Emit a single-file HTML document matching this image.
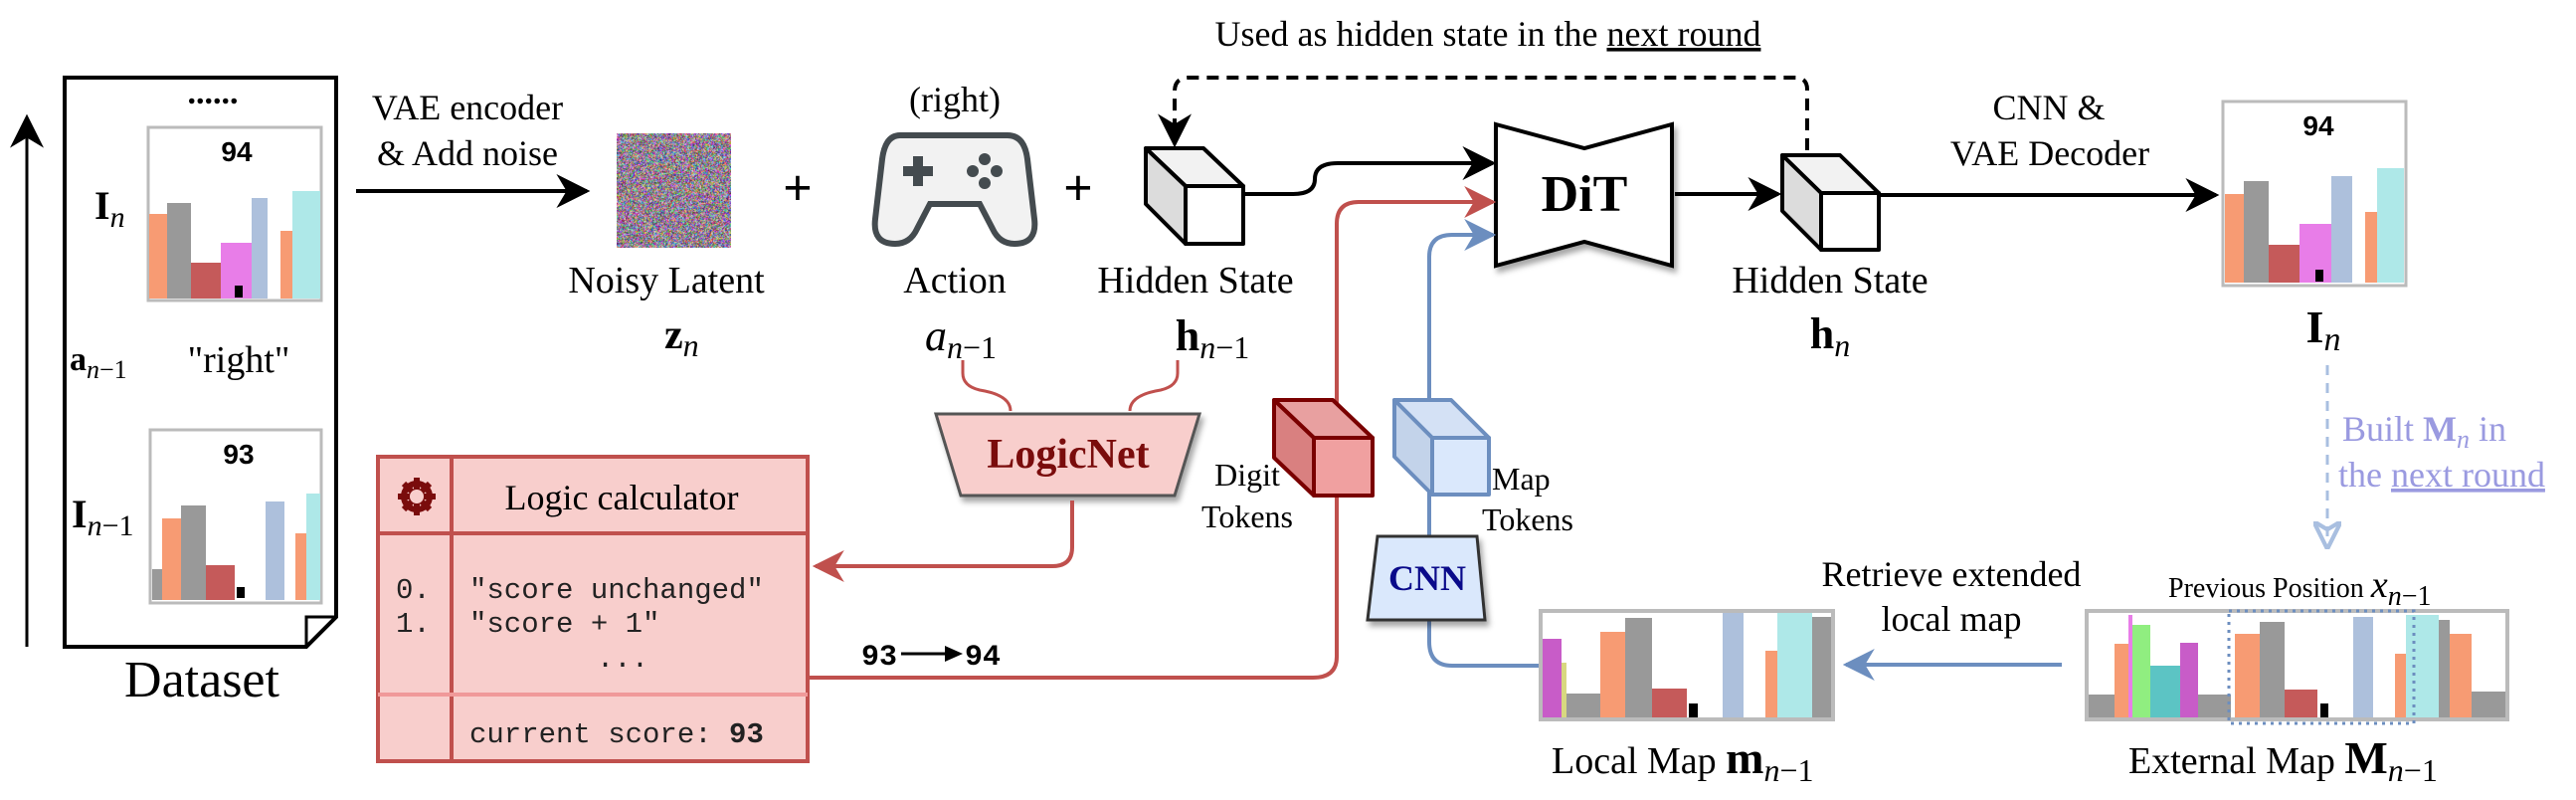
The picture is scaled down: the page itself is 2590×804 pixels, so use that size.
<!DOCTYPE html>
<html><head><meta charset="utf-8"><style>
html,body{margin:0;padding:0;background:#fff;}
svg{display:block;}
.t{font-family:"Liberation Serif",serif;fill:#000;}
.m{font-family:"Liberation Mono",monospace;}
</style></head><body>
<svg width="2590" height="804" viewBox="0 0 2590 804" xmlns="http://www.w3.org/2000/svg">
<defs>
<marker id="ab" markerWidth="10" markerHeight="10" refX="8" refY="5" orient="auto" markerUnits="userSpaceOnUse" viewBox="0 0 10 10"><path d="M0,0 L10,5 L0,10 L3,5 Z" fill="#000"/></marker>
<marker id="abk" viewBox="0 0 10 10" refX="9" refY="5" markerWidth="34" markerHeight="34" orient="auto" markerUnits="userSpaceOnUse"><path d="M0,0 L10,5 L0,10 L3,5 Z" fill="#000"/></marker>
<marker id="ar" viewBox="0 0 10 10" refX="9" refY="5" markerWidth="32" markerHeight="32" orient="auto" markerUnits="userSpaceOnUse"><path d="M0,0 L10,5 L0,10 L3,5 Z" fill="#c0504d"/></marker>
<marker id="abl" viewBox="0 0 10 10" refX="9" refY="5" markerWidth="32" markerHeight="32" orient="auto" markerUnits="userSpaceOnUse"><path d="M0,0 L10,5 L0,10 L3,5 Z" fill="#6c8ebf"/></marker>
<marker id="alb" viewBox="0 0 10 10" refX="9" refY="5" markerWidth="28" markerHeight="28" orient="auto" markerUnits="userSpaceOnUse"><path d="M0,0 L10,5 L0,10 L3,5 Z" fill="none" stroke="#a9bfe0" stroke-width="1.5"/></marker>
<filter id="sh" x="-10%" y="-10%" width="130%" height="130%"><feDropShadow dx="3" dy="5" stdDeviation="3" flood-opacity="0.35"/></filter>
</defs>

<!-- Dataset -->
<line x1="27" y1="650" x2="27" y2="118" stroke="#000" stroke-width="3" marker-end="url(#abk)"/>
<path d="M65,78 H338 V620 L308,650 H65 Z" fill="#fff" stroke="#000" stroke-width="4"/>
<path d="M338,620 H308 V650" fill="none" stroke="#000" stroke-width="3"/>
<text class="t" x="214" y="104" font-size="34" text-anchor="middle" font-weight="bold">......</text>

<!-- In chart -->
<g>
<rect x="149" y="128" width="174" height="174" fill="#fff" stroke="#bbb" stroke-width="3"/>
<text x="238" y="162" font-family="Liberation Sans,sans-serif" font-weight="bold" font-size="28" text-anchor="middle">94</text>
<rect x="150" y="215" width="18" height="85" fill="#f79b73"/>
<rect x="168" y="204" width="24" height="96" fill="#999"/>
<rect x="192" y="264" width="30" height="36" fill="#c55a5a"/>
<rect x="222" y="244" width="31" height="56" fill="#e87de8"/>
<rect x="236" y="287" width="8" height="12" fill="#000"/>
<rect x="253" y="199" width="16" height="101" fill="#adc0dc"/>
<rect x="282" y="232" width="12" height="68" fill="#f79b73"/>
<rect x="294" y="192" width="28" height="108" fill="#aee8e8"/>
</g>
<text class="t" x="95" y="220" font-size="40"><tspan font-weight="bold">I</tspan><tspan font-style="italic" font-size="30" dy="8">n</tspan></text>
<text class="t" x="70" y="372" font-size="34"><tspan font-weight="bold">a</tspan><tspan font-style="italic" font-size="26" dy="8">n</tspan><tspan font-size="26">−1</tspan></text>
<text class="t" x="240" y="374" font-size="38" text-anchor="middle">"right"</text>

<!-- In-1 chart -->
<g>
<rect x="151" y="432" width="172" height="174" fill="#fff" stroke="#bbb" stroke-width="3"/>
<text x="240" y="466" font-family="Liberation Sans,sans-serif" font-weight="bold" font-size="28" text-anchor="middle">93</text>
<rect x="153" y="572" width="10" height="31" fill="#999"/>
<rect x="163" y="521" width="19" height="82" fill="#f79b73"/>
<rect x="182" y="508" width="25" height="95" fill="#999"/>
<rect x="207" y="568" width="29" height="35" fill="#c55a5a"/>
<rect x="238" y="590" width="8" height="11" fill="#000"/>
<rect x="267" y="504" width="19" height="99" fill="#adc0dc"/>
<rect x="297" y="536" width="11" height="67" fill="#f79b73"/>
<rect x="308" y="496" width="14" height="107" fill="#aee8e8"/>
</g>
<text class="t" x="72" y="530" font-size="40"><tspan font-weight="bold">I</tspan><tspan font-style="italic" font-size="30" dy="8">n</tspan><tspan font-size="30">−1</tspan></text>
<text class="t" x="203" y="700" font-size="52" text-anchor="middle">Dataset</text>

<!-- VAE encoder -->
<text class="t" x="470" y="120" font-size="36" text-anchor="middle">VAE encoder</text>
<text class="t" x="470" y="166" font-size="36" text-anchor="middle">&amp; Add noise</text>
<line x1="358" y1="192" x2="590" y2="192" stroke="#000" stroke-width="4" marker-end="url(#abk)"/>

<!-- noisy latent -->
<foreignObject x="620" y="134" width="115" height="115"><canvas id="nz" width="115" height="115" xmlns="http://www.w3.org/1999/xhtml"></canvas></foreignObject>
<text class="t" x="670" y="294" font-size="38" text-anchor="middle">Noisy Latent</text>
<text class="t" x="668" y="350" font-size="42"><tspan font-weight="bold">z</tspan><tspan font-style="italic" font-size="32" dy="8">n</tspan></text>

<text class="t" x="802" y="206" font-size="52" text-anchor="middle" font-weight="bold">+</text>
<text class="t" x="1084" y="206" font-size="52" text-anchor="middle" font-weight="bold">+</text>

<!-- gamepad -->
<text class="t" x="960" y="112" font-size="36" text-anchor="middle">(right)</text>
<path d="M905,136 H1013 Q1030,136 1033,160 L1040,220 Q1043,245 1020,245 Q1005,245 998,230 L985,205 H935 L922,230 Q915,245 900,245 Q877,245 880,220 L887,160 Q890,136 905,136 Z" fill="#f2f2f2" stroke="#444b4f" stroke-width="6"/>
<path d="M908,167 h10 v-10 h10 v10 h10 v10 h-10 v10 h-10 v-10 h-10 z" fill="#444b4f"/>
<circle cx="990" cy="160" r="6" fill="#444b4f"/><circle cx="978" cy="172" r="6" fill="#444b4f"/><circle cx="1002" cy="172" r="6" fill="#444b4f"/><circle cx="990" cy="184" r="6" fill="#444b4f"/>
<text class="t" x="960" y="294" font-size="38" text-anchor="middle">Action</text>
<text class="t" x="966" y="352" font-size="44" text-anchor="middle"><tspan font-style="italic">a</tspan><tspan font-style="italic" font-size="32" dy="8">n</tspan><tspan font-size="32">−1</tspan></text>

<!-- hidden state n-1 cube -->
<g stroke="#000" stroke-width="4" stroke-linejoin="round">
<path d="M1152,149 L1210,149 L1250,187 L1192,187 Z" fill="#f2f2f2"/>
<path d="M1152,149 L1192,187 L1192,245 L1152,205 Z" fill="#dcdcdc"/>
<rect x="1192" y="187" width="58" height="58" fill="#fff"/>
</g>
<text class="t" x="1202" y="294" font-size="38" text-anchor="middle">Hidden State</text>
<text class="t" x="1219" y="352" font-size="44" text-anchor="middle"><tspan font-weight="bold">h</tspan><tspan font-style="italic" font-size="32" dy="8">n</tspan><tspan font-size="32">−1</tspan></text>

<!-- dashed loop -->
<text class="t" x="1496" y="46" font-size="36" text-anchor="middle">Used as hidden state in the <tspan text-decoration="underline">next round</tspan></text>
<path d="M1817,151 V90 Q1817,78 1805,78 H1195 Q1181,78 1181,92 V145" fill="none" stroke="#000" stroke-width="4" stroke-dasharray="12,8" marker-end="url(#abk)"/>

<!-- curve into DiT -->
<path d="M1252,195 H1300 Q1322,195 1322,180 Q1322,164 1345,164 H1501" fill="none" stroke="#000" stroke-width="4" marker-end="url(#abk)"/>

<!-- DiT -->
<path d="M1504,125 L1593,149 L1681,125 V267 L1593,243 L1504,267 Z" fill="#fff" stroke="#000" stroke-width="4" filter="url(#sh)"/>
<text class="t" x="1593" y="212" font-size="52" font-weight="bold" text-anchor="middle">DiT</text>
<line x1="1684" y1="195" x2="1788" y2="195" stroke="#000" stroke-width="4" marker-end="url(#abk)"/>

<!-- hn cube -->
<g stroke="#000" stroke-width="4" stroke-linejoin="round">
<path d="M1792,156 L1850,156 L1889,194 L1831,194 Z" fill="#f2f2f2"/>
<path d="M1792,156 L1831,194 L1831,251 L1792,212 Z" fill="#dcdcdc"/>
<rect x="1831" y="194" width="58" height="57" fill="#fff"/>
</g>
<text class="t" x="1840" y="294" font-size="38" text-anchor="middle">Hidden State</text>
<text class="t" x="1840" y="350" font-size="44" text-anchor="middle"><tspan font-weight="bold">h</tspan><tspan font-style="italic" font-size="32" dy="8">n</tspan></text>

<line x1="1889" y1="196" x2="2228" y2="196" stroke="#000" stroke-width="4" marker-end="url(#abk)"/>
<text class="t" x="2060" y="120" font-size="36" text-anchor="middle">CNN &amp;</text>
<text class="t" x="2061" y="166" font-size="36" text-anchor="middle">VAE Decoder</text>

<!-- output In chart -->
<g>
<rect x="2235" y="102" width="184" height="185" fill="#fff" stroke="#bbb" stroke-width="3"/>
<text x="2331" y="136" font-family="Liberation Sans,sans-serif" font-weight="bold" font-size="28" text-anchor="middle">94</text>
<rect x="2237" y="195" width="19" height="89" fill="#f79b73"/>
<rect x="2256" y="182" width="25" height="102" fill="#999"/>
<rect x="2281" y="246" width="31" height="38" fill="#c55a5a"/>
<rect x="2312" y="225" width="32" height="59" fill="#e87de8"/>
<rect x="2328" y="271" width="8" height="12" fill="#000"/>
<rect x="2344" y="177" width="21" height="107" fill="#adc0dc"/>
<rect x="2378" y="213" width="12" height="71" fill="#f79b73"/>
<rect x="2390" y="169" width="27" height="115" fill="#aee8e8"/>
</g>
<text class="t" x="2336" y="344" font-size="46" text-anchor="middle"><tspan font-weight="bold">I</tspan><tspan font-style="italic" font-size="34" dy="8">n</tspan></text>

<!-- dashed down -->
<line x1="2340" y1="367" x2="2340" y2="549" stroke="#a9bfe0" stroke-width="3" stroke-dasharray="10,8" marker-end="url(#alb)"/>
<text class="t" x="2355" y="443" font-size="36" style="fill:#9a9ae0">Built  <tspan font-weight="bold">M</tspan><tspan font-style="italic" font-size="26" dy="7">n</tspan><tspan dy="-7"> in</tspan></text>
<text class="t" x="2351" y="489" font-size="36" style="fill:#9a9ae0">the <tspan text-decoration="underline">next round</tspan></text>

<!-- LogicNet -->
<path d="M968,362 V375 Q968,388 985,392 Q1016,397 1016,413" fill="none" stroke="#c0504d" stroke-width="3"/>
<path d="M1184,362 V375 Q1184,388 1167,392 Q1136,397 1136,413" fill="none" stroke="#c0504d" stroke-width="3"/>
<path d="M941,416 H1206 L1181,498 H966 Z" fill="#f8cecc" stroke="#555" stroke-width="3" filter="url(#sh)"/>
<text class="t" x="1074" y="470" font-size="42" font-weight="bold" text-anchor="middle" style="fill:#7a0c0c">LogicNet</text>
<path d="M1078,503 V550 Q1078,569 1058,569 H820" fill="none" stroke="#c0504d" stroke-width="4" marker-end="url(#ar)"/>

<!-- Logic calculator -->
<rect x="380" y="459" width="432" height="306" fill="#f8cecc" stroke="#c0504d" stroke-width="4"/>
<line x1="454" y1="459" x2="454" y2="765" stroke="#c0504d" stroke-width="4"/>
<line x1="380" y1="536" x2="812" y2="536" stroke="#c0504d" stroke-width="4"/>
<line x1="380" y1="698" x2="812" y2="698" stroke="#f09999" stroke-width="4"/>
<g transform="translate(419,499)" fill="#7a0c0c">
<circle r="13" fill="none" stroke="#7a0c0c" stroke-width="6"/>
<g stroke="#7a0c0c" stroke-width="6"><line x1="0" y1="-19" x2="0" y2="19"/><line x1="-19" y1="0" x2="19" y2="0"/><line x1="-13" y1="-13" x2="13" y2="13"/><line x1="-13" y1="13" x2="13" y2="-13"/></g>
<circle r="7" fill="#f8cecc"/>
</g>
<text class="t" x="625" y="512" font-size="36" text-anchor="middle">Logic calculator</text>
<g class="m" font-size="29" fill="#222">
<text x="398" y="601">0.</text><text x="398" y="635">1.</text>
<text x="472" y="601">"score unchanged"</text>
<text x="472" y="635">"score + 1"</text>
<text x="626" y="670" text-anchor="middle">...</text>
<text x="472" y="746">current score: <tspan font-weight="bold">93</tspan></text>
</g>
<text class="m" x="866" y="668" font-size="30" font-weight="bold">93</text>
<line x1="906" y1="657" x2="962" y2="657" stroke="#000" stroke-width="3"/>
<path d="M950,649 L968,657 L950,665 Z" fill="#000"/>
<text class="m" x="970" y="668" font-size="30" font-weight="bold">94</text>

<!-- red path to DiT -->
<path d="M814,681 H1320 Q1344,681 1344,660 V225 Q1344,203 1366,203 H1501" fill="none" stroke="#c0504d" stroke-width="4" marker-end="url(#ar)"/>
<!-- blue path -->
<path d="M1547,669 H1460 Q1437,669 1437,645 V258 Q1437,236 1460,236 H1501" fill="none" stroke="#6c8ebf" stroke-width="4" marker-end="url(#abl)"/>

<!-- digit tokens cube -->
<g stroke="#7a0000" stroke-width="4" stroke-linejoin="round">
<path d="M1281,402 L1340,402 L1380,440 L1321,440 Z" fill="#e8a0a0"/>
<path d="M1281,402 L1321,440 L1321,498 L1281,460 Z" fill="#d98080"/>
<rect x="1321" y="440" width="59" height="58" fill="#f0a0a0"/>
</g>
<text class="t" x="1254" y="488" font-size="32" text-anchor="middle">Digit</text>
<text class="t" x="1254" y="530" font-size="32" text-anchor="middle">Tokens</text>

<!-- map tokens cube -->
<g stroke="#6c8ebf" stroke-width="4" stroke-linejoin="round">
<path d="M1402,402 L1459,402 L1497,440 L1440,440 Z" fill="#d4e1f5"/>
<path d="M1402,402 L1440,440 L1440,497 L1402,459 Z" fill="#c3d3ea"/>
<rect x="1440" y="440" width="57" height="57" fill="#dae8fc"/>
</g>
<text class="t" x="1500" y="492" font-size="32">Map</text>
<text class="t" x="1490" y="533" font-size="32">Tokens</text>

<!-- CNN -->
<path d="M1385,539 H1485 L1493,623 H1375 Z" fill="#dae8fc" stroke="#333" stroke-width="3" filter="url(#sh)"/>
<text class="t" x="1435" y="593" font-size="36" font-weight="bold" text-anchor="middle" style="fill:#0a0a8a">CNN</text>

<!-- Local map -->
<g>
<rect x="1549" y="614" width="294" height="109" fill="#fff" stroke="#bbb" stroke-width="4"/>
<rect x="1551" y="642" width="19" height="79" fill="#c85cc8"/>
<rect x="1570" y="666" width="5" height="55" fill="#d8d880"/>
<rect x="1575" y="697" width="34" height="24" fill="#999"/>
<rect x="1609" y="635" width="25" height="86" fill="#f79b73"/>
<rect x="1634" y="621" width="27" height="100" fill="#999"/>
<rect x="1661" y="692" width="35" height="29" fill="#c55a5a"/>
<rect x="1698" y="707" width="9" height="14" fill="#000"/>
<rect x="1732" y="616" width="21" height="105" fill="#adc0dc"/>
<rect x="1775" y="654" width="12" height="67" fill="#f79b73"/>
<rect x="1787" y="616" width="35" height="105" fill="#aee8e8"/>
<rect x="1822" y="620" width="19" height="101" fill="#999"/>
</g>
<text class="t" x="1560" y="777" font-size="38">Local Map <tspan font-weight="bold" font-size="46">m</tspan><tspan font-style="italic" font-size="32" dy="8">n</tspan><tspan font-size="32">−1</tspan></text>

<!-- retrieve arrow -->
<line x1="2073" y1="668" x2="1856" y2="668" stroke="#6c8ebf" stroke-width="4" marker-end="url(#abl)"/>
<text class="t" x="1962" y="589" font-size="36" text-anchor="middle">Retrieve extended</text>
<text class="t" x="1962" y="634" font-size="36" text-anchor="middle">local map</text>

<!-- External map -->
<g>
<rect x="2098" y="614" width="423" height="109" fill="#fff" stroke="#bbb" stroke-width="4"/>
<rect x="2100" y="698" width="26" height="23" fill="#999"/>
<rect x="2126" y="647" width="14" height="74" fill="#f79b73"/>
<rect x="2140" y="618" width="4" height="103" fill="#e87de8"/>
<rect x="2144" y="628" width="18" height="93" fill="#90ee80"/>
<rect x="2162" y="669" width="30" height="52" fill="#5cc4c4"/>
<rect x="2192" y="646" width="18" height="75" fill="#c85cc8"/>
<rect x="2210" y="698" width="33" height="23" fill="#999"/>
<rect x="2247" y="637" width="25" height="84" fill="#f79b73"/>
<rect x="2272" y="625" width="25" height="96" fill="#999"/>
<rect x="2297" y="693" width="33" height="28" fill="#c55a5a"/>
<rect x="2333" y="707" width="8" height="14" fill="#000"/>
<rect x="2366" y="620" width="20" height="101" fill="#adc0dc"/>
<rect x="2408" y="657" width="11" height="64" fill="#f79b73"/>
<rect x="2419" y="618" width="33" height="103" fill="#aee8e8"/>
<rect x="2452" y="623" width="11" height="98" fill="#999"/>
<rect x="2463" y="637" width="22" height="84" fill="#f79b73"/>
<rect x="2485" y="695" width="34" height="26" fill="#999"/>
<rect x="2241" y="614" width="186" height="113" fill="none" stroke="#6c8ebf" stroke-width="3" stroke-dasharray="3,5"/>
</g>
<text class="t" x="2180" y="600" font-size="28">Previous Position <tspan font-style="italic" font-size="38">x</tspan><tspan font-style="italic" font-size="28" dy="8">n</tspan><tspan font-size="28">−1</tspan></text>
<text class="t" x="2140" y="777" font-size="38">External Map <tspan font-weight="bold" font-size="46">M</tspan><tspan font-style="italic" font-size="32" dy="8">n</tspan><tspan font-size="32">−1</tspan></text>
</svg>
<script>
(function(){var c=document.getElementById('nz');if(!c)return;var x=c.getContext('2d');var d=x.createImageData(115,115);var s=12345;function r(){s=(s*1103515245+12345)&0x7fffffff;return s/0x7fffffff;}
for(var i=0;i<d.data.length;i+=4){d.data[i]=40+r()*215;d.data[i+1]=30+r()*200;d.data[i+2]=40+r()*215;d.data[i+3]=255;}x.putImageData(d,0,0);})();
</script>
</body></html>
